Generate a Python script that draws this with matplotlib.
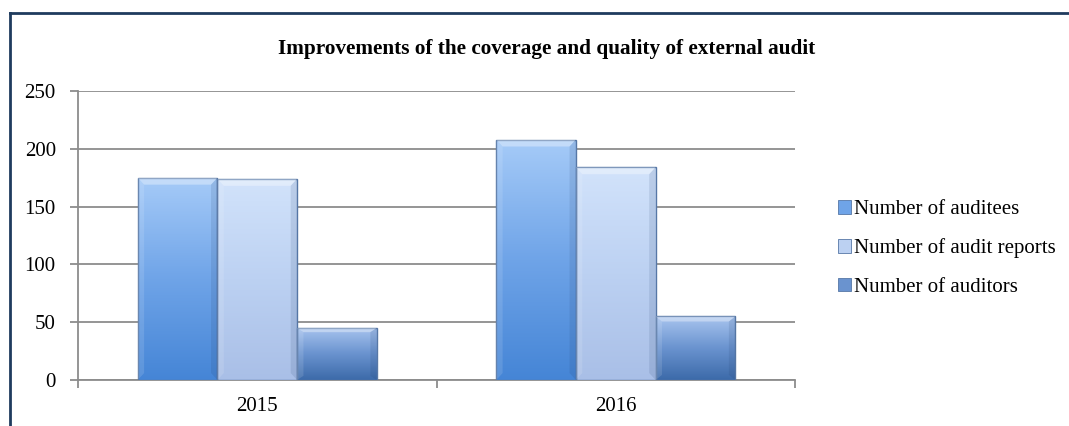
import matplotlib
matplotlib.use("Agg")
import matplotlib.pyplot as plt
import numpy as np
from matplotlib.colors import LinearSegmentedColormap
from matplotlib.patches import Rectangle, Patch
from matplotlib.lines import Line2D

categories = ["2015", "2016"]
series_names = ["Number of auditees", "Number of audit reports", "Number of auditors"]
auditees = [175, 208]
audit_reports = [174, 184]
auditors = [45, 55]
values = [auditees, audit_reports, auditors]
yticks = [0, 50, 100, 150, 200, 250]

top_colors = ["#a6cbf8", "#d2e3fb", "#a9c5ef"]
bot_colors = ["#4585d6", "#a9bfe7", "#3c6aa9"]
mid_colors = ["#6fa4e8", "#bcd1f2", "#6a93cf"]

plt.rcParams['font.family'] = ['Liberation Serif', 'DejaVu Serif']
fig = plt.figure(figsize=(10.69, 4.26), dpi=100)
ax = fig.add_axes([78/1069, 1-380/426, (795-78)/1069, (380-91)/426])

n = len(series_names)
w = 1/(n+1.5)
x = np.arange(len(categories))
grad = np.linspace(0, 1, 256).reshape(-1, 1)
for i, (name, vals) in enumerate(zip(series_names, values)):
    cmap = LinearSegmentedColormap.from_list(name, [bot_colors[i], mid_colors[i], top_colors[i]])
    for xi, v in zip(x, vals):
        x0 = xi + (i - 1)*w - w/2
        rect = Rectangle((x0, 0), w, v, facecolor='none', edgecolor='#5677a6', lw=1.0, zorder=4)
        ax.add_patch(rect)
        im = ax.imshow(grad, extent=[x0, x0+w, 0, v], origin='lower', aspect='auto', cmap=cmap, zorder=3)
        im.set_clip_path(rect)
        bev = min(6, v*0.08)
        dx = w*0.08
        ax.fill([x0, x0+w, x0+w-dx, x0+dx], [v, v, v-bev, v-bev], color='white', alpha=0.35, zorder=5, lw=0)
        ax.fill([x0, x0+dx, x0+dx, x0], [v, v-bev, bev, 0], color='white', alpha=0.12, zorder=5, lw=0)
        ax.fill([x0+w, x0+w-dx, x0+w-dx, x0+w], [v, v-bev, bev, 0], color='#1d3a66', alpha=0.12, zorder=5, lw=0)

ax.set_xlim(-0.5, len(categories)-0.5)
ax.set_ylim(0, 250)
ax.set_yticks(yticks)
ax.set_yticklabels([str(t) for t in yticks], fontsize=15)
ax.yaxis.grid(True, color='#8c8c8c', lw=1.3, zorder=0)
ax.set_axisbelow(True)
ax.set_xticks(x)
ax.set_xticklabels(categories, fontsize=15)
ax.set_xticks(np.arange(-0.5, len(categories)), minor=True)
ax.tick_params(axis='x', which='major', length=0, pad=12)
ax.tick_params(axis='x', which='minor', length=6, color='#8c8c8c', width=1.3, direction='out')
ax.tick_params(axis='y', length=6, color='#8c8c8c', width=1.3, pad=10)
for s in ['top', 'right']:
    ax.spines[s].set_visible(False)
for s in ['left', 'bottom']:
    ax.spines[s].set_color('#8c8c8c')
    ax.spines[s].set_linewidth(1.3)

handles = [Patch(facecolor=mid_colors[i], edgecolor='#5677a6', lw=0.6) for i in range(n)]
leg = fig.legend(handles, series_names, loc='upper left', bbox_to_anchor=(830/1069, 1-192/426),
                 frameon=False, fontsize=15, handlelength=0.6, handleheight=0.6,
                 handletextpad=0.15, labelspacing=0.92, borderaxespad=0)

fig.text(0.511, 1-49/426, "Improvements of the coverage and quality of external audit",
         ha='center', va='center', fontsize=15.3, fontweight='bold')

fig.add_artist(Line2D([10/1069, 10/1069], [0, 1-13/426], color='#1f3b5e', lw=2, transform=fig.transFigure))
fig.add_artist(Line2D([10/1069, 1], [1-13/426, 1-13/426], color='#1f3b5e', lw=2, transform=fig.transFigure))

fig.savefig("out.png", dpi=100)
